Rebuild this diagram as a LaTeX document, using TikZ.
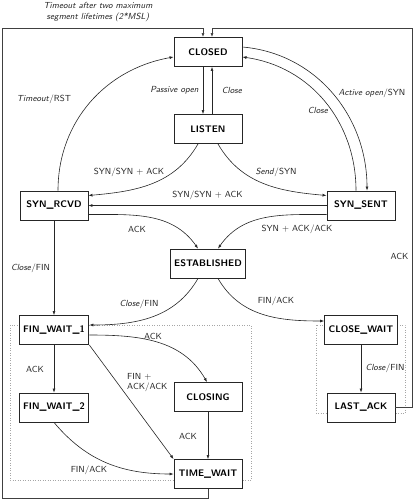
\documentclass[tikz,border=0pt]{standalone}
\usetikzlibrary{arrows.meta}
\begin{document}
\begin{tikzpicture}[x=1pt,y=1pt,
  state/.style={draw=black!85, fill=white, line width=0.9pt, minimum width=68pt, minimum height=29pt, inner xsep=4pt, font=\fontsize{9.5}{11}\selectfont\sffamily\bfseries},
  lbl/.style={font=\fontsize{8.8}{10.5}\selectfont\sffamily, text=black!85, inner sep=0pt},
  conn/.style={draw=black!85, line width=0.6pt, -{Latex[length=4pt,width=3pt]}},
  frame/.style={draw=black!75, line width=0.7pt, -{Latex[length=4pt,width=3pt]}},
  grp/.style={draw=black!35, dotted, line width=0.5pt}]
\useasboundingbox (0,0) rectangle (415,-500);
\draw[grp] (10,-325) rectangle (251,-480);
\draw[grp] (316,-325) rectangle (405,-413);
\node[state] (closed) at (208,-52) {CLOSED};
\node[state] (listen) at (208,-129) {LISTEN};
\node[state] (synrcvd) at (54,-205.5) {SYN\_RCVD};
\node[state] (synsent) at (361,-205.5) {SYN\_SENT};
\node[state] (est) at (208,-263.5) {ESTABLISHED};
\node[state] (fw1) at (54,-330) {FIN\_WAIT\_1};
\node[state] (cw) at (361,-330) {CLOSE\_WAIT};
\node[state] (fw2) at (54,-407.5) {FIN\_WAIT\_2};
\node[state] (closing) at (208,-397) {CLOSING};
\node[state] (tw) at (208,-474) {TIME\_WAIT};
\node[state] (la) at (361,-407.5) {LAST\_ACK};
\coordinate (fbl) at (2,-498);
\coordinate (ftl) at (2,-28);
\coordinate (ftr) at (412,-28);
\draw[conn] ([xshift=-5pt]closed.south) -- ([xshift=-5pt]listen.north);
\draw[conn] ([xshift=4pt]listen.north) -- ([xshift=4pt]closed.south);
\draw[conn] ([xshift=4pt]synrcvd.north) to[out=90,in=190] ([yshift=-5pt]closed.west);
\draw[conn] ([yshift=5pt]closed.east) to[out=-5,in=90] ([xshift=6pt]synsent.north);
\draw[conn] ([xshift=-5pt]synsent.north) to[out=90,in=-8] ([yshift=-5pt]closed.east);
\draw[conn] ([xshift=-10pt]listen.south) to[out=-120,in=5] ([yshift=10pt]synrcvd.east);
\draw[conn] ([xshift=10pt]listen.south) to[out=-60,in=175] ([yshift=10pt]synsent.west);
\draw[conn] (synsent.west) -- (synrcvd.east);
\draw[conn] ([yshift=-9pt]synrcvd.east) to[out=0,in=125] ([xshift=-10pt]est.north);
\draw[conn] ([yshift=-9pt]synsent.west) to[out=180,in=55] ([xshift=10pt]est.north);
\draw[conn] (synrcvd.south) -- (fw1.north);
\draw[conn] ([xshift=-10pt]est.south) to[out=-120,in=0] ([yshift=5pt]fw1.east);
\draw[conn] ([xshift=10pt]est.south) to[out=-60,in=180] ([yshift=9pt]cw.west);
\draw[conn] (fw1.south) -- (fw2.north);
\draw[conn] ([yshift=-5pt]fw1.east) to[out=0,in=120] ([xshift=-1pt]closing.north);
\draw[conn] (fw1.south east) -- (tw.north west);
\draw[conn] (closing.south) -- (tw.north);
\draw[conn] (fw2.south) to[out=-50,in=180] (tw.west);
\draw[conn] (cw.south) -- (la.north);
\draw[frame] (tw.south) |- (fbl) -- (ftl) -| ([xshift=-5pt]closed.north);
\draw[frame] (la.east) -| (ftr) -| ([xshift=4pt]closed.north);
\node[lbl] (lpo) at (174.5,-90) {\textsl{Passive open}};
\node[lbl] (lcl1) at (232,-90) {\textsl{Close}};
\node[lbl] (lto) at (44,-99) {\textsl{Timeout}/RST};
\node[lbl] (lao) at (372,-93) {\textsl{Active open}/SYN};
\node[lbl] (lcl2) at (318,-110) {\textsl{Close}};
\node[lbl] (l1) at (129,-172) {SYN/SYN + ACK};
\node[lbl] (l2) at (276,-172) {\textsl{Send}/SYN};
\node[lbl] (l3) at (207.5,-195) {SYN/SYN + ACK};
\node[lbl] (l4) at (137,-229) {ACK};
\node[lbl] (l5) at (297,-229) {SYN + ACK/ACK};
\node[lbl] (l6) at (399.5,-256) {ACK};
\node[lbl] (l7) at (30.5,-268) {\textsl{Close}/FIN};
\node[lbl] (l8) at (139,-304) {\textsl{Close}/FIN};
\node[lbl] (l9) at (276,-301) {FIN/ACK};
\node[lbl] (l10) at (35,-369) {ACK};
\node[lbl] (l11) at (153,-336) {ACK};
\node[lbl,align=left,anchor=west] (l12) at (127,-382.5) {FIN +\\ACK/ACK};
\node[lbl] (l13) at (188,-436) {ACK};
\node[lbl] (l14) at (89,-470) {FIN/ACK};
\node[lbl] (l15) at (385,-368) {\textsl{Close}/FIN};
\node[lbl,align=center] (l16) at (98,-12) {\textsl{Timeout after two maximum}\\\textsl{segment lifetimes (2*MSL)}};
\end{tikzpicture}
\end{document}
